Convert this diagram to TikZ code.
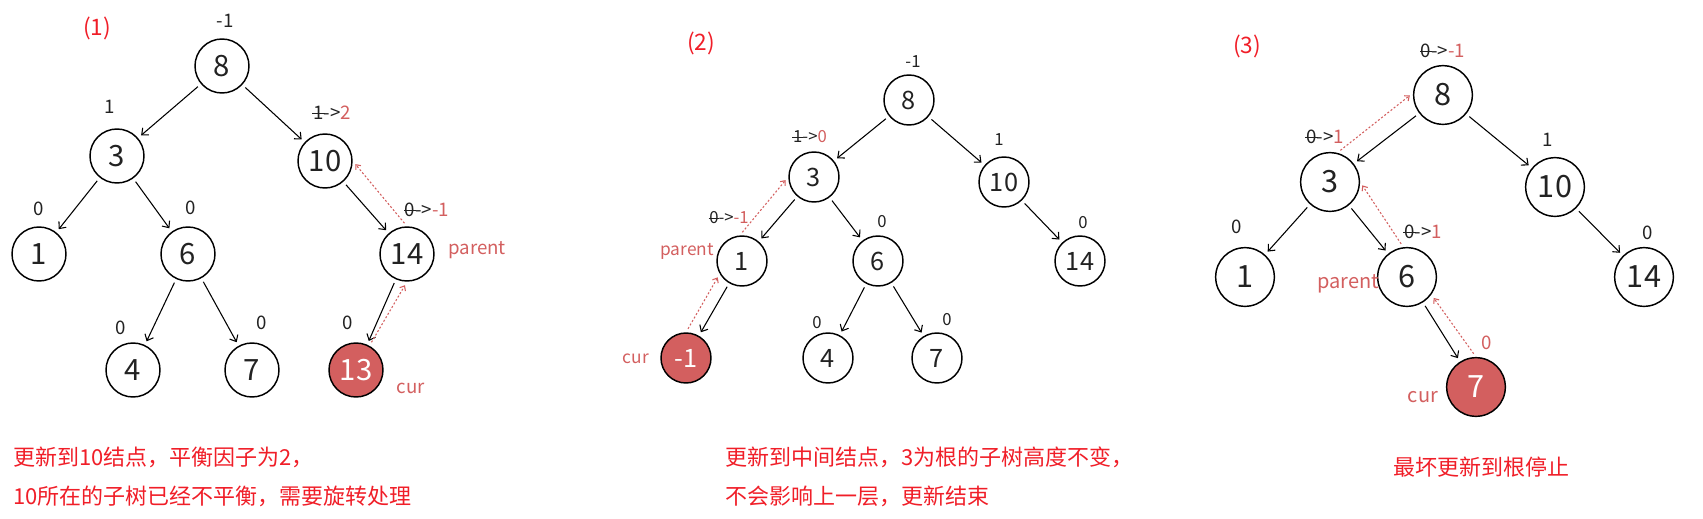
\documentclass[tikz,border=0pt]{standalone}
\usepackage{fontspec}
\setmainfont{Noto Sans CJK SC}
\usepackage{tikz}
\usetikzlibrary{arrows.meta}
\definecolor{softred}{HTML}{D35F5F}
\definecolor{notered}{HTML}{F01E28}
\definecolor{inkc}{HTML}{222222}
\newsavebox\strkbox
\newcommand{\strk}[1]{\sbox\strkbox{#1}\rlap{\hspace*{-0.05em}\rule[0.33em]{\dimexpr\wd\strkbox+0.1em\relax}{0.6pt}}\usebox\strkbox}
\newcommand{\upd}[2]{\strk{#1}->\textcolor{softred}{#2}}

\begin{document}
\begin{tikzpicture}[x=0.75pt,y=-0.75pt]
\tikzset{tnode/.style={circle, draw=black, line width=1.1pt, inner sep=0pt, text=inkc}}%
\tikzset{nodea/.style={tnode, minimum size=40.5pt, font=\fontsize{22}{22}\selectfont}}%
\tikzset{nodeb/.style={tnode, minimum size=37.5pt, font=\fontsize{19}{19}\selectfont}}%
\tikzset{nodec/.style={tnode, minimum size=44pt, font=\fontsize{23}{23}\selectfont}}%
\tikzset{curnode/.style={fill=softred, text=white}}%
\tikzset{tedge/.style={-{Straight Barb[length=4pt,width=7pt]}, line width=0.8pt, shorten >=3pt, shorten <=3pt}}%
\tikzset{back/.style={-{Straight Barb[length=3pt,width=5pt]}, draw=softred, line width=0.8pt, dash pattern=on 1.5pt off 1.5pt, shorten >=3pt, shorten <=3pt}}%
\tikzset{bf/.style={inner sep=0pt, text=inkc, font=\fontsize{14}{14}\selectfont}}%
\tikzset{bfb/.style={bf, font=\fontsize{12.5}{12.5}\selectfont}}%
\tikzset{ptr/.style={inner sep=0pt, text=softred, font=\fontsize{14}{14}\selectfont}}%
\tikzset{step title/.style={inner sep=0pt, text=notered, font=\fontsize{17}{17}\selectfont}}%
\tikzset{note/.style={inner sep=0pt, text=notered, anchor=west, font=\fontsize{16.5}{16.5}\selectfont}}%
\useasboundingbox (0,0) rectangle (1703,518);
% (1)
\node[step title] (ta) at (97,28) {(1)};
\node[nodea] (a8) at (222,66) {8};
\node[nodea] (a3) at (117,156) {3};
\node[nodea] (a10) at (325,161) {10};
\node[nodea] (a1) at (39,254) {1};
\node[nodea] (a6) at (188,254) {6};
\node[nodea] (a14) at (407,254) {14};
\node[nodea] (a4) at (133,370) {4};
\node[nodea] (a7) at (252,370) {7};
\node[nodea,curnode] (a13) at (356,370) {13};
\draw[tedge] (a8) -- (a3);
\draw[tedge] (a8) -- (a10);
\draw[tedge] (a3) -- (a1);
\draw[tedge] (a3) -- (a6);
\draw[tedge] (a6) -- (a4);
\draw[tedge] (a6) -- (a7);
\draw[tedge] (a10) -- (a14);
\draw[tedge] (a14) -- (a13);
\draw[back] (a13.61) -- (a14.south);
\draw[back] (a14.north) -- (a10.east);
\node[bf] (fa8) at (225,21) {-1};
\node[bf] (fa3) at (110,107) {1};
\node[bf] (fa10) at (332,113) {\upd{1}{2}};
\node[bf] (fa1) at (39,209) {0};
\node[bf] (fa6) at (191,208) {0};
\node[bf] (fa14) at (427,210) {\upd{0}{-1}};
\node[bf] (fa4) at (121,328) {0};
\node[bf] (fa7) at (262,323) {0};
\node[bf] (fa13) at (348,323) {0};
\node[ptr] (pa) at (477,250) {parent};
\node[ptr] (ca) at (411,388) {cur};
\node[note] (na1) at (13,457) {更新到10结点，平衡因子为2，};
\node[note] (na2) at (13,496) {10所在的子树已经不平衡，需要旋转处理};
% (2)
\node[step title] (tb) at (701,43) {(2)};
\node[nodeb] (b8) at (909,100) {8};
\node[nodeb] (b3) at (814,177) {3};
\node[nodeb] (b10) at (1004,182) {10};
\node[nodeb] (b1) at (742,261) {1};
\node[nodeb] (b6) at (878,261) {6};
\node[nodeb] (b14) at (1080,261) {14};
\node[nodeb,curnode] (bm1) at (686,358) {-1};
\node[nodeb] (b4) at (828,358) {4};
\node[nodeb] (b7) at (937,358) {7};
\draw[tedge] (b8) -- (b3);
\draw[tedge] (b8) -- (b10);
\draw[tedge] (b3) -- (b1);
\draw[tedge] (b3) -- (b6);
\draw[tedge] (b1) -- (bm1);
\draw[tedge] (b6) -- (b4);
\draw[tedge] (b6) -- (b7);
\draw[tedge] (b10) -- (b14);
\draw[back] (bm1.north) -- (b1.210);
\draw[back] (b1.95) -- (b3.west);
\node[bfb] (fb8) at (913,62) {-1};
\node[bfb] (fb3) at (810,137) {\upd{1}{0}};
\node[bfb] (fb10) at (999,140) {1};
\node[bfb] (fb1) at (729,218) {\upd{0}{-1}};
\node[bfb] (fb6) at (882,222) {0};
\node[bfb] (fb14) at (1083,223) {0};
\node[bfb] (fb4) at (817,323) {0};
\node[bfb] (fb7) at (947,320) {0};
\node[ptr,font=\fontsize{13}{13}\selectfont] (pb) at (687,251) {parent};
\node[ptr,font=\fontsize{13}{13}\selectfont] (cb) at (636,359) {cur};
\node[note] (nb1) at (725,457) {更新到中间结点，3为根的子树高度不变，};
\node[note] (nb2) at (725,496) {不会影响上一层，更新结束};
% (3)
\node[step title] (tc) at (1247,46) {(3)};
\node[nodec] (c8) at (1443,95) {8};
\node[nodec] (c3) at (1330,182) {3};
\node[nodec] (c10) at (1555,187) {10};
\node[nodec] (c1) at (1245,277) {1};
\node[nodec] (c6) at (1407,277) {6};
\node[nodec] (c14) at (1644,277) {14};
\node[nodec,curnode] (c7) at (1476,387) {7};
\draw[tedge] (c8) -- (c3);
\draw[tedge] (c8) -- (c10);
\draw[tedge] (c3) -- (c1);
\draw[tedge] (c3) -- (c6);
\draw[tedge] (c6) -- (c7);
\draw[tedge] (c10) -- (c14);
\draw[back] (c7.north) -- (c6.-36);
\draw[back] (c6.97) -- (c3.east);
\draw[back] (c3.76) -- (c8.176);
\node[bf] (fc8) at (1443,51) {\upd{0}{-1}};
\node[bf] (fc3) at (1325,137) {\upd{0}{1}};
\node[bf] (fc10) at (1548,140) {1};
\node[bf] (fc1) at (1237,227) {0};
\node[bf] (fc6) at (1423,232) {\upd{0}{1}};
\node[bf] (fc14) at (1648,233) {0};
\node[bf,text=softred] (fc7) at (1487,343) {0};
\node[ptr,font=\fontsize{15}{15}\selectfont] (pc) at (1348,284) {parent};
\node[ptr,font=\fontsize{15}{15}\selectfont] (cc) at (1423,397) {cur};
\node[note,anchor=center] (nc) at (1481,467) {最坏更新到根停止};
\end{tikzpicture}
\end{document}
